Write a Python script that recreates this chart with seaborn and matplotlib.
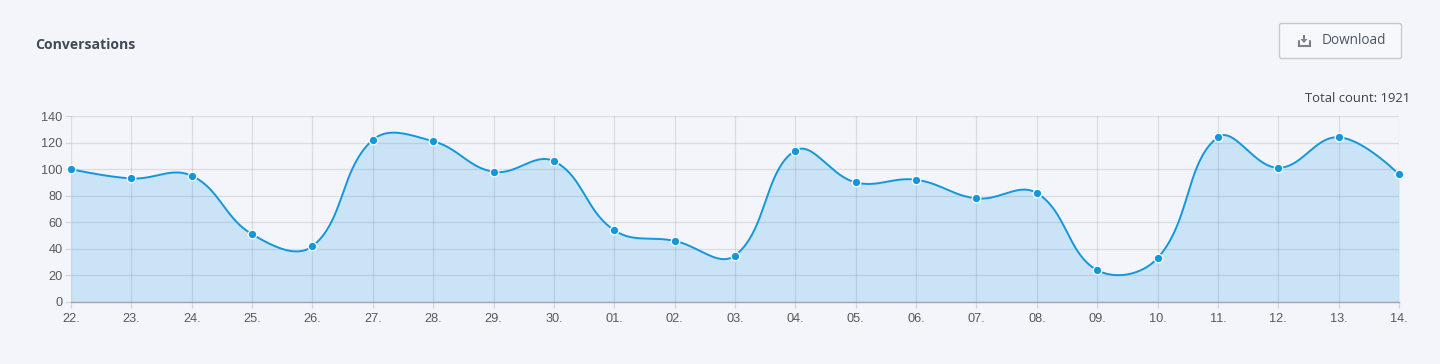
import numpy as np
import pandas as pd
import matplotlib
matplotlib.use("Agg")
import matplotlib.pyplot as plt
from matplotlib.patches import FancyBboxPatch, Rectangle, Polygon
from matplotlib.lines import Line2D
import seaborn as sns

days = ["22.", "23.", "24.", "25.", "26.", "27.", "28.", "29.", "30.", "01.", "02.", "03.",
        "04.", "05.", "06.", "07.", "08.", "09.", "10.", "11.", "12.", "13.", "14."]
counts = [100, 93, 95, 51, 42, 122, 121, 98, 106, 54, 46, 35,
          114, 90, 92, 78, 82, 24, 33, 124, 101, 124, 96]
yticks = [0, 20, 40, 60, 80, 100, 120, 140]

BG = "#f3f5fa"
LINE = "#1397dc"
FILL = "#cbe3f7"
W, H = 1440, 364

sns.set_theme(style="white")
plt.rcParams["font.family"] = ["Liberation Sans", "DejaVu Sans"]

fig = plt.figure(figsize=(W / 100, H / 100), dpi=100, facecolor=BG)
L, R, T, B = 71, 1399, 116, 302
ax = fig.add_axes([L / W, 1 - B / H, (R - L) / W, (B - T) / H], facecolor=BG)

x = np.arange(len(counts), dtype=float)
y = np.array(counts, dtype=float)
sx = (R - L) / (len(x) - 1)
sy = (B - T) / 140


def smooth(x, y, tension=0.4, n=40):
    """Chart.js style bezier through the points, measured in pixel space."""
    px, py = x * sx, y * sy
    cnx, cny, cpx, cpy = px.copy(), py.copy(), px.copy(), py.copy()
    for i in range(1, len(px) - 1):
        d1 = np.hypot(px[i] - px[i - 1], py[i] - py[i - 1])
        d2 = np.hypot(px[i + 1] - px[i], py[i + 1] - py[i])
        a, b = tension * d1 / (d1 + d2), tension * d2 / (d1 + d2)
        dx, dy = px[i + 1] - px[i - 1], py[i + 1] - py[i - 1]
        cpx[i], cpy[i] = px[i] - a * dx, py[i] - a * dy
        cnx[i], cny[i] = px[i] + b * dx, py[i] + b * dy
    t = np.linspace(0, 1, n, endpoint=False)[:, None]
    xs, ys = [], []
    for i in range(len(px) - 1):
        q = (1 - t) ** 3, 3 * t * (1 - t) ** 2, 3 * t ** 2 * (1 - t), t ** 3
        xs.append((q[0] * px[i] + q[1] * cnx[i] + q[2] * cpx[i + 1] + q[3] * px[i + 1]).ravel())
        ys.append((q[0] * py[i] + q[1] * cny[i] + q[2] * cpy[i + 1] + q[3] * py[i + 1]).ravel())
    return np.r_[np.concatenate(xs), px[-1]] / sx, np.r_[np.concatenate(ys), py[-1]] / sy


cx, cy = smooth(x, y)
ax.fill_between(cx, 0, cy, color=FILL, lw=0, zorder=1)
sns.lineplot(data=pd.DataFrame({"x": cx, "y": cy}), x="x", y="y", ax=ax, color=LINE,
             lw=1.4, estimator=None, sort=False, zorder=4, clip_on=False)
sns.scatterplot(data=pd.DataFrame({"x": x, "y": y}), x="x", y="y", ax=ax, color=LINE, s=38,
                edgecolor="white", linewidth=0.9, zorder=5, clip_on=False)

ax.set_xlim(0, len(x) - 1)
ax.set_ylim(0, 140)
ax.set_xticks(x, days)
ax.set_yticks(yticks)
ax.set_xlabel("")
ax.set_ylabel("")
ax.set_axisbelow("line")
ax.grid(True, color="#1c2a4a", alpha=0.115, lw=0.9)
TICK = "#d3d6dd"
ax.tick_params(axis="x", length=4, width=0.9, color=TICK, pad=4, labelsize=9.2, labelcolor="#55585e", bottom=True)
ax.tick_params(axis="y", length=4, width=0.9, color=TICK, pad=2, labelsize=9.2, labelcolor="#55585e", left=True)
for name, sp in ax.spines.items():
    sp.set_visible(name == "bottom")
ax.spines["bottom"].set_color("#a3a5aa")
ax.spines["bottom"].set_linewidth(1)
ax.spines["bottom"].set_zorder(6)

UI = ["Open Sans", "DejaVu Sans"]
fig.text(35 / W, 1 - 45 / H, "Conversations", family=UI, fontsize=10.1, fontweight="bold",
         color="#404956", ha="left", va="center")
fig.text(1410 / W, 1 - 99 / H, "Total count: 1921", family=UI, fontsize=9.4, color="#3c3f44",
         ha="right", va="center")

overlay = fig.add_axes([0, 0, 1, 1], facecolor="none", zorder=10)
overlay.set_xlim(0, W)
overlay.set_ylim(H, 0)
overlay.axis("off")
overlay.add_patch(FancyBboxPatch((1279.5, 23.5), 122, 35, boxstyle="round,pad=0,rounding_size=2",
                                 fc="#f7f8fb", ec="#c6c9d1", lw=1))
overlay.text(1322, 40.5, "Download", family=UI, fontsize=9.8, color="#4b5563", ha="left", va="center")
ic = "#7b808c"
overlay.add_line(Line2D([1298.5, 1298.5, 1309.5, 1309.5], [41, 45.5, 45.5, 41], color=ic, lw=1.5,
                        solid_joinstyle="miter"))
overlay.add_patch(Rectangle((1303, 35), 2, 4.5, fc=ic, ec="none"))
overlay.add_patch(Polygon([(1300.5, 39), (1307.5, 39), (1304, 43)], fc=ic, ec="none"))

fig.savefig("out.png", dpi=100, facecolor=BG)
